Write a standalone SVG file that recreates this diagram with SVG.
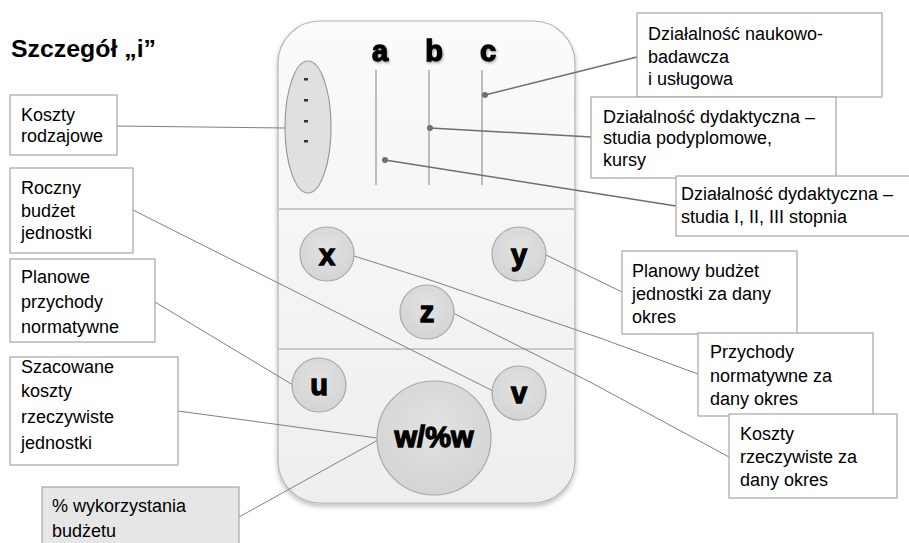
<svg xmlns="http://www.w3.org/2000/svg" width="909" height="543" viewBox="0 0 909 543">
<defs>
<linearGradient id="bodyG" x1="0" y1="0" x2="0" y2="1">
<stop offset="0" stop-color="#fbfbfb"/><stop offset="1" stop-color="#eeeeee"/>
</linearGradient>
<radialGradient id="circG" cx="0.5" cy="0.4" r="0.6">
<stop offset="0" stop-color="#e2e2e2"/><stop offset="1" stop-color="#d4d4d4"/>
</radialGradient>
<filter id="sh" x="-10%" y="-10%" width="120%" height="120%">
<feDropShadow dx="0" dy="3" stdDeviation="2.5" flood-color="#000" flood-opacity="0.25"/>
</filter>
<filter id="tsh" x="-20%" y="-20%" width="140%" height="140%">
<feDropShadow dx="1" dy="1.5" stdDeviation="1" flood-color="#000" flood-opacity="0.35"/>
</filter>
</defs>
<style>
.box{fill:#fff;stroke:#a6a6a6;stroke-width:1.2}
.gbox{fill:#e6e6e6;stroke:#a6a6a6;stroke-width:1.2}
.t{font-family:"Liberation Sans",Arial,sans-serif;font-size:18px;fill:#000}
.big{font-family:"Liberation Sans",Arial,sans-serif;font-size:29px;font-weight:bold;fill:#000;stroke:#000;stroke-width:1.3;text-anchor:middle}
.circ{fill:url(#circG);stroke:#a8a8a8;stroke-width:1.2}
.con{stroke:#808080;stroke-width:1;fill:none}
.con2{stroke:#6e6e6e;stroke-width:1.5;fill:none}
.vl{stroke:#a8a8a8;stroke-width:1.5}
.dot{fill:#707070}
</style>

<text x="11" y="57" font-family="Liberation Sans,Arial,sans-serif" font-size="23" font-weight="bold" textLength="145" lengthAdjust="spacingAndGlyphs">Szczegół „i”</text>

<g id="body">
<rect x="278" y="21" width="297" height="482" rx="42" ry="42" fill="url(#bodyG)" stroke="#b4b4b4" stroke-width="1.2" filter="url(#sh)"/>
<line x1="279" y1="209" x2="574" y2="209" stroke="#c8c8c8" stroke-width="2"/>
<line x1="279" y1="349" x2="574" y2="349" stroke="#c8c8c8" stroke-width="2"/>
</g>

<g id="kategorie">
<ellipse cx="308" cy="127" rx="23" ry="66" fill="#e0e0e0" stroke="#9a9a9a" stroke-width="1.2"/>
<g fill="#333"><rect x="304" y="78" width="4" height="2.5"/><rect x="304" y="99" width="4" height="2.5"/><rect x="304" y="120" width="4" height="2.5"/><rect x="304" y="140" width="4" height="2.5"/></g>
</g>

<g id="abc">
<text class="big" x="380" y="61" font-size="27" filter="url(#tsh)">a</text>
<text class="big" x="434" y="61" font-size="27" filter="url(#tsh)">b</text>
<text class="big" x="488" y="61" font-size="27" filter="url(#tsh)">c</text>
<line class="vl" x1="376" y1="70" x2="376" y2="185"/>
<line class="vl" x1="429" y1="70" x2="429" y2="185"/>
<line class="vl" x1="482" y1="70" x2="482" y2="185"/>
</g>

<g id="connectors">
<line class="con" x1="117" y1="126" x2="285" y2="128"/>
<line class="con" x1="133" y1="210" x2="493" y2="391"/>
<line class="con" x1="155" y1="302" x2="293" y2="385"/>
<line class="con" x1="178" y1="411" x2="377" y2="438"/>
<line class="con" x1="239" y1="517" x2="378" y2="440"/>
<polyline class="con" points="354,256 430,280 600,338 698,374"/>
<line class="con" x1="546" y1="255" x2="622" y2="292"/>
<polyline class="con" points="453,313 590,382 729,457"/>
<line class="con2" x1="485" y1="95" x2="637" y2="57"/>
<line class="con2" x1="430" y1="128" x2="591" y2="137"/>
<line class="con2" x1="385" y1="160" x2="676" y2="206"/>
<circle class="dot" cx="485" cy="95" r="3"/>
<circle class="dot" cx="430" cy="128" r="3"/>
<circle class="dot" cx="385" cy="160" r="3"/>
</g>

<g id="node-x"><circle class="circ" cx="327" cy="254" r="27"/><text class="big" x="327" y="265">x</text></g>
<g id="node-y"><circle class="circ" cx="519" cy="254" r="27"/><text class="big" x="519" y="265">y</text></g>
<g id="node-z"><circle class="circ" cx="427" cy="312" r="27"/><text class="big" x="427" y="322">z</text></g>
<g id="node-u"><circle class="circ" cx="319" cy="385" r="27"/><text class="big" x="319" y="395">u</text></g>
<g id="node-v"><circle class="circ" cx="519" cy="393" r="27"/><text class="big" x="519" y="403">v</text></g>
<g id="node-w"><circle class="circ" cx="434" cy="438" r="57"/><text class="big" x="434" y="447" font-size="28">w/%w</text></g>

<g id="box-koszty-rodzajowe"><rect class="box" x="10" y="95" width="107" height="60"/>
<text class="t" x="21" y="121">Koszty</text><text class="t" x="21" y="142">rodzajowe</text></g>

<g id="box-roczny"><rect class="box" x="10" y="168" width="123" height="85"/>
<text class="t" x="21" y="194">Roczny</text><text class="t" x="21" y="217">budżet</text><text class="t" x="21" y="239">jednostki</text></g>

<g id="box-planowe"><rect class="box" x="10" y="259" width="145" height="83"/>
<text class="t" x="21" y="283">Planowe</text><text class="t" x="21" y="308">przychody</text><text class="t" x="21" y="333">normatywne</text></g>

<g id="box-szacowane"><rect class="box" x="10" y="357" width="168" height="108"/>
<text class="t" x="21" y="373">Szacowane</text><text class="t" x="21" y="397">koszty</text><text class="t" x="21" y="423">rzeczywiste</text><text class="t" x="21" y="449">jednostki</text></g>

<g id="box-wykorzystanie"><rect class="gbox" x="42" y="487" width="197" height="70"/>
<text class="t" x="52" y="512">% wykorzystania</text><text class="t" x="52" y="537">budżetu</text></g>

<g id="box-naukowa"><rect class="box" x="637" y="13" width="245" height="84"/>
<text class="t" x="648" y="40">Działalność naukowo-</text><text class="t" x="648" y="63">badawcza</text><text class="t" x="648" y="85">i usługowa</text></g>

<g id="box-podyplomowe"><rect class="box" x="591" y="97" width="245" height="81"/>
<text class="t" x="603" y="123">Działalność dydaktyczna –</text><text class="t" x="603" y="144">studia podyplomowe,</text><text class="t" x="603" y="166">kursy</text></g>

<g id="box-studia"><rect class="box" x="676" y="176" width="240" height="60"/>
<text class="t" x="681" y="200">Działalność dydaktyczna –</text><text class="t" x="681" y="223">studia I, II, III stopnia</text></g>

<g id="box-planowy"><rect class="box" x="622" y="251" width="175" height="83"/>
<text class="t" x="632" y="277">Planowy budżet</text><text class="t" x="632" y="300">jednostki za dany</text><text class="t" x="632" y="323">okres</text></g>

<g id="box-przychody"><rect class="box" x="698" y="333" width="175" height="83"/>
<text class="t" x="710" y="358">Przychody</text><text class="t" x="710" y="382">normatywne za</text><text class="t" x="710" y="405">dany okres</text></g>

<g id="box-koszty-rzecz"><rect class="box" x="729" y="414" width="168" height="84"/>
<text class="t" x="740" y="440">Koszty</text><text class="t" x="740" y="463">rzeczywiste za</text><text class="t" x="740" y="486">dany okres</text></g>
</svg>
